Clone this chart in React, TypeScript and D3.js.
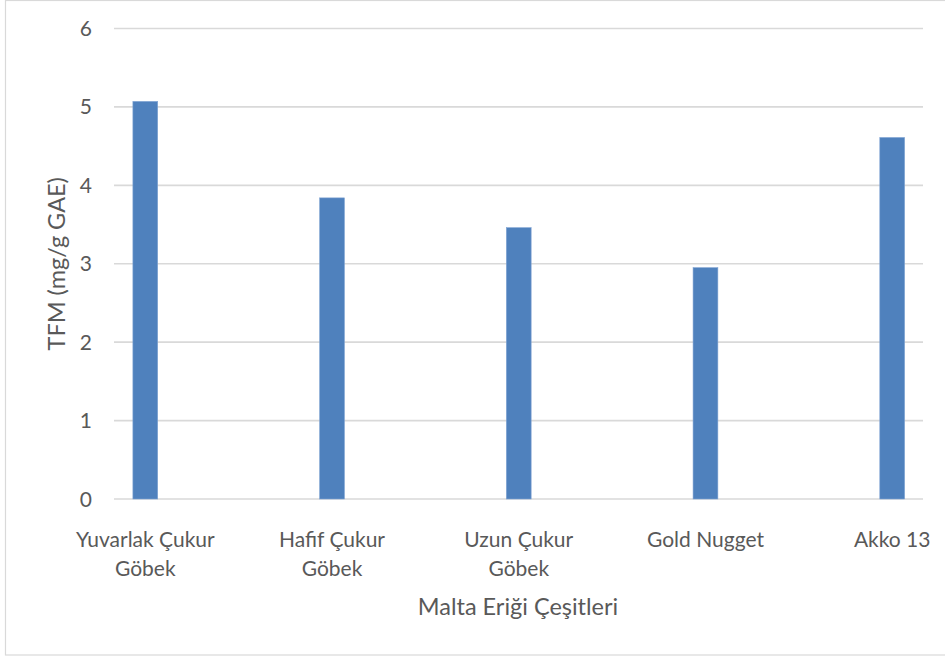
import React from "react";
import * as d3 from "d3";

// Total phenolic content of Malta plum cultivars
const categories: string[][] = [
  ["Yuvarlak Çukur", "Göbek"],
  ["Hafif Çukur", "Göbek"],
  ["Uzun Çukur", "Göbek"],
  ["Gold Nugget"],
  ["Akko 13"],
];
const values: number[] = [5.07, 3.84, 3.46, 2.95, 4.61];
const yTicks: number[] = [0, 1, 2, 3, 4, 5, 6];
const yTitle = "TFM (mg/g GAE)";
const xTitle = "Malta Eriği Çeşitleri";

const W = 945;
const H = 659;
const FONT = "Lato, 'Open Sans', sans-serif";
const TEXT = "#595959";
const GRID = "#d9d9d9";
const BAR = "#4f81bd";

export default function App() {
  const keys = categories.map((c) => c.join(" "));
  const x = d3.scalePoint<string>().domain(keys).range([145.3, 892.2]);
  const y = d3.scaleLinear().domain([0, 6]).range([499, 28.5]);
  const gridX0 = 114;
  const gridX1 = 923;
  const barW = 24.8;

  return (
    <div style={{ position: "fixed", left: 0, top: 0, width: W, height: H, background: "#fff" }}>
      <svg width={W} height={H} style={{ display: "block" }} fontFamily={FONT}>
        <rect x={5.5} y={0.5} width={W + 10} height={654.5} fill="#fff" stroke={GRID} strokeWidth={1.2} />
        {yTicks.map((t) => (
          <g key={t}>
            <line x1={gridX0} x2={gridX1} y1={y(t)} y2={y(t)} stroke={GRID} strokeWidth={1.6} />
            <text x={92} y={y(t)} dy="0.36em" textAnchor="end" fontSize={21} fill={TEXT}>
              {t}
            </text>
          </g>
        ))}
        {values.map((v, i) => (
          <rect
            key={keys[i]}
            x={(x(keys[i]) as number) - barW / 2}
            y={y(v)}
            width={barW}
            height={y(0) - y(v)}
            fill={BAR}
            stroke="#7fa3d3"
            strokeWidth={0.6}
          />
        ))}
        {categories.map((lines, i) => (
          <text key={keys[i]} x={x(keys[i]) as number} y={547} textAnchor="middle" fontSize={21} fill={TEXT}>
            {lines.map((ln, j) => (
              <tspan key={j} x={x(keys[i]) as number} dy={j === 0 ? 0 : 28.5}>
                {ln}
              </tspan>
            ))}
          </text>
        ))}
        <text x={518} y={615} textAnchor="middle" fontSize={23.5} fill={TEXT}>
          {xTitle}
        </text>
        <text
          transform={`translate(65,${(y(0) + y(6)) / 2}) rotate(-90)`}
          textAnchor="middle"
          fontSize={23.5}
          fill={TEXT}
        >
          {yTitle}
        </text>
      </svg>
    </div>
  );
}
